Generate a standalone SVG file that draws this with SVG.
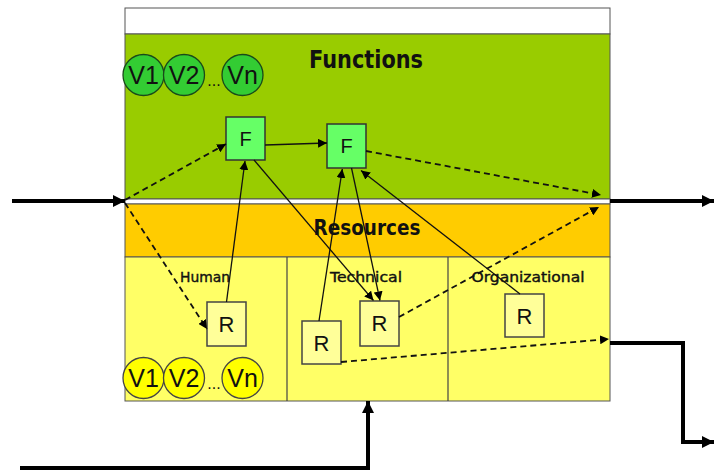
<svg xmlns="http://www.w3.org/2000/svg" width="714" height="470" viewBox="0 0 714 470">
<style>
.band{stroke:#555;stroke-width:1}
.title{font-family:"DejaVu Sans",sans-serif;font-weight:bold;fill:#111;text-anchor:middle}
.sub{font-family:"DejaVu Sans",sans-serif;font-size:14px;fill:#111;stroke:#111;stroke-width:0.4;text-anchor:middle}
.vt{font-family:"Liberation Sans",Arial,sans-serif;font-size:25px;fill:#111;text-anchor:middle}
.bt{font-family:"Liberation Sans",Arial,sans-serif;fill:#111;text-anchor:middle}
.gc{fill:#33CC33;stroke:#1a4a1a;stroke-width:1.3}
.yc{fill:#FFFF00;stroke:#444;stroke-width:1.3}
.fbox{fill:#66FF66;stroke:#333;stroke-width:1.5}
.rbox{fill:#FFFF99;stroke:#444;stroke-width:1.5}
.solid{stroke:#111;stroke-width:1.3;fill:none;marker-end:url(#ah)}
.dash{stroke:#111;stroke-width:1.8;stroke-dasharray:6 4;fill:none;marker-end:url(#ah)}
.thick{stroke:#000;stroke-width:4;fill:none;marker-end:url(#ahb)}
</style>
<defs>
<marker id="ah" viewBox="0 0 10 10" refX="10" refY="5" markerWidth="9" markerHeight="9" markerUnits="userSpaceOnUse" orient="auto">
<path d="M0,0 L10,5 L0,10 z" fill="#000"/>
</marker>
<marker id="ahb" viewBox="0 0 10 10" refX="10" refY="5" markerWidth="12" markerHeight="14" markerUnits="userSpaceOnUse" orient="auto">
<path d="M0,0 L10,5 L0,10 z" fill="#000"/>
</marker>
</defs>
<rect width="714" height="470" fill="#fff"/>
<g id="frame">
<rect x="125" y="8" width="485" height="26" fill="#fff" class="band"/>
<rect x="125" y="34" width="485" height="165" fill="#99CC00" class="band"/>
<rect x="125" y="199" width="485" height="5" fill="#fff" class="band"/>
<rect x="125" y="204" width="485" height="53" fill="#FFCC00" class="band"/>
<rect x="125" y="257" width="485" height="144" fill="#FFFF66" class="band"/>
<line x1="287" y1="257" x2="287" y2="401" stroke="#444" stroke-width="1.2"/>
<line x1="448" y1="257" x2="448" y2="401" stroke="#444" stroke-width="1.2"/>
<text class="title" x="366" y="68" font-size="24" textLength="114" lengthAdjust="spacingAndGlyphs">Functions</text>
<text class="title" x="367" y="235" font-size="22" textLength="107" lengthAdjust="spacingAndGlyphs">Resources</text>
<text class="sub" x="205" y="282" textLength="50" lengthAdjust="spacingAndGlyphs">Human</text>
<text class="sub" x="366" y="282" textLength="72" lengthAdjust="spacingAndGlyphs">Technical</text>
<text class="sub" x="528" y="282" textLength="113" lengthAdjust="spacingAndGlyphs">Organizational</text>
</g>
<g id="green-variants">
<circle class="gc" cx="143.5" cy="75" r="20.5"/>
<circle class="gc" cx="184" cy="75" r="20.5"/>
<circle class="gc" cx="242.5" cy="75" r="20.5"/>
<text class="vt" x="143.5" y="84">V1</text>
<text class="vt" x="184" y="84">V2</text>
<text class="vt" x="242.5" y="84">Vn</text>
<text class="bt" x="214" y="86" font-size="16">...</text>
</g>
<g id="yellow-variants">
<circle class="yc" cx="143.5" cy="378" r="20.5"/>
<circle class="yc" cx="184" cy="378" r="20.5"/>
<circle class="yc" cx="242.5" cy="378" r="20.5"/>
<text class="vt" x="143.5" y="387">V1</text>
<text class="vt" x="184" y="387">V2</text>
<text class="vt" x="242.5" y="387">Vn</text>
<text class="bt" x="214" y="389" font-size="16">...</text>
</g>
<g id="F1"><rect class="fbox" x="226" y="117" width="39" height="43"/><text class="bt" x="245.5" y="146" font-size="20">F</text></g>
<g id="F2"><rect class="fbox" x="327" y="124" width="39" height="44"/><text class="bt" x="346.5" y="153" font-size="20">F</text></g>
<g id="R-human"><rect class="rbox" x="207" y="302" width="39" height="44"/><text class="bt" x="226.5" y="332" font-size="22">R</text></g>
<g id="R-tech1"><rect class="rbox" x="302" y="321" width="39" height="43"/><text class="bt" x="321.5" y="351" font-size="22">R</text></g>
<g id="R-tech2"><rect class="rbox" x="360" y="301" width="39" height="45"/><text class="bt" x="379.5" y="331" font-size="22">R</text></g>
<g id="R-org"><rect class="rbox" x="505" y="294" width="39" height="43"/><text class="bt" x="524.5" y="324" font-size="22">R</text></g>
<g id="connectors">
<line class="solid" x1="265" y1="145" x2="327" y2="143"/>
<line class="solid" x1="226.5" y1="302" x2="245" y2="161"/>
<line class="solid" x1="254" y1="160" x2="373.5" y2="300.5"/>
<line class="solid" x1="319" y1="321" x2="342.3" y2="169"/>
<line class="solid" x1="351.5" y1="168" x2="380" y2="300.5"/>
<line class="solid" x1="520" y1="294" x2="361" y2="170.5"/>
<line class="dash" x1="125" y1="200" x2="226" y2="144"/>
<line class="dash" x1="125" y1="203" x2="207" y2="329"/>
<line class="dash" x1="366" y1="151" x2="601" y2="195"/>
<line class="dash" x1="399" y1="317" x2="599" y2="207"/>
<line class="dash" x1="341" y1="362" x2="609" y2="339"/>
<line class="thick" x1="12" y1="201" x2="125" y2="201"/>
<line class="thick" x1="610" y1="201" x2="714" y2="201"/>
<polyline class="thick" points="610,343 683,343 683,442 714,442"/>
<polyline class="thick" points="20,468 368,468 368,401"/>
</g>
</svg>
